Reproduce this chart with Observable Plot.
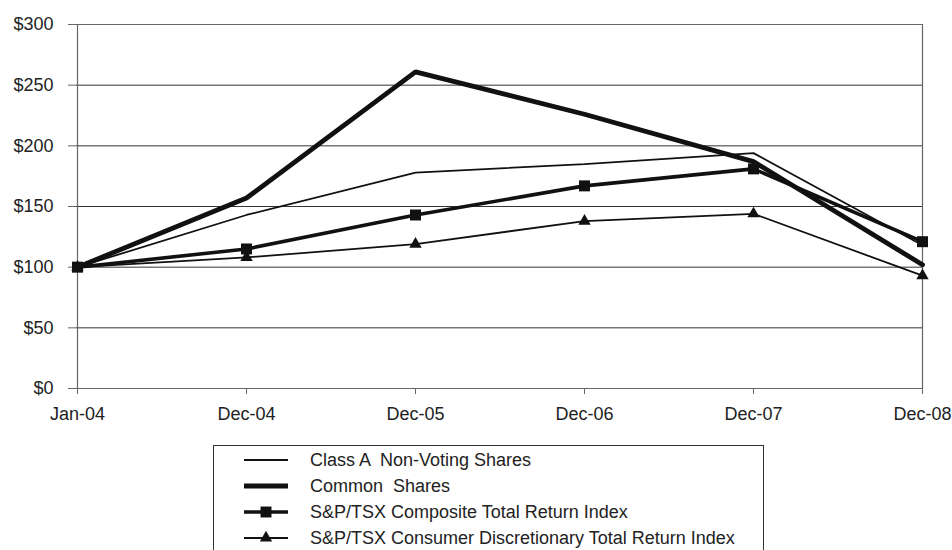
<!DOCTYPE html>
<html>
<head>
<meta charset="utf-8">
<script src="https://cdn.jsdelivr.net/npm/d3@7"></script>
<script src="https://cdn.jsdelivr.net/npm/@observablehq/plot@0.6"></script>
<style>
  html, body { margin: 0; padding: 0; background: #fff; }
  #wrap { position: relative; width: 952px; height: 550px; overflow: hidden; font-family: "Liberation Sans", Arial, sans-serif; }
  #legend { position: absolute; left: 213px; top: 445px; width: 551px; height: 120px; border: 1px solid #333; box-sizing: border-box; }
  .row { position: absolute; left: 0; height: 22px; display: flex; align-items: center; }
  .row svg { margin-left: 30px; }
  .row span { margin-left: 22px; font-size: 18px; color: #222; white-space: pre; }
</style>
</head>
<body>
<div id="wrap">
  <div id="chart"></div>
  <div id="legend"></div>
</div>
<script>
const periods = ["Jan-04", "Dec-04", "Dec-05", "Dec-06", "Dec-07", "Dec-08"];
const classA = [100, 143, 178, 185, 194, 118];
const common = [100, 157, 261, 226, 187, 102];
const composite = [100, 115, 143, 167, 181, 121];
const consumer = [100, 108, 119, 138, 144, 93];
const seriesNames = [
  "Class A  Non-Voting Shares",
  "Common  Shares",
  "S&P/TSX Composite Total Return Index",
  "S&P/TSX Consumer Discretionary Total Return Index"
];
const yTicks = [0, 50, 100, 150, 200, 250, 300];

const seriesValues = [classA, common, composite, consumer];
const styles = [
  {width: 1.8, symbol: null},
  {width: 4.8, symbol: null},
  {width: 3.6, symbol: "square"},
  {width: 1.8, symbol: "triangle"}
];
const rows = [];
seriesNames.forEach((name, i) => {
  periods.forEach((p, j) => rows.push({series: name, idx: i, period: p, value: seriesValues[i][j]}));
});

const lineMarks = [];
const order = [3, 2, 1, 0];
order.forEach(i => {
  lineMarks.push(Plot.line(rows.filter(d => d.idx === i), {x: "period", y: "value", stroke: "#111", strokeWidth: styles[i].width, strokeLinejoin: "miter"}));
});
const sq = rows.filter(d => d.idx === 2);
const tri = rows.filter(d => d.idx === 3);

const chart = Plot.plot({
  width: 952,
  height: 430,
  marginTop: 24,
  marginBottom: 42,
  marginLeft: 76,
  marginRight: 29,
  style: {fontFamily: "'Liberation Sans', Arial, sans-serif", fontSize: "18px", color: "#222", background: "white"},
  x: {type: "point", domain: periods, padding: 0, label: null},
  y: {domain: [0, 300], label: null},
  marks: [
    Plot.gridY(yTicks.slice(1, -1), {stroke: "#333", strokeOpacity: 1, strokeWidth: 1}),
    Plot.ruleY([0, 300], {stroke: "#666", strokeWidth: 1.2}),
    Plot.ruleX([periods[0], periods[periods.length - 1]], {stroke: "#666", strokeWidth: 1.2}),
    Plot.axisY({ticks: yTicks, tickSize: 8, tickPadding: 15, tickFormat: d => "$" + d, stroke: "#666", label: null}),
    Plot.axisX({tickSize: 6, tickPadding: 13, stroke: "#666", label: null}),
    ...lineMarks,
    Plot.dot(sq, {x: "period", y: "value", symbol: "square", r: 6.2, fill: "#111", stroke: "none"}),
    Plot.dot(tri, {x: "period", y: "value", symbol: "triangle", r: 4.6, fill: "#111", stroke: "none"})
  ]
});
document.getElementById("chart").appendChild(chart);

// Legend
const legend = d3.select("#legend");
const rowTops = [3, 29, 55, 81];
seriesNames.forEach((name, i) => {
  const r = legend.append("div").attr("class", "row").style("top", rowTops[i] + "px");
  const s = r.append("svg").attr("width", 44).attr("height", 22);
  s.append("line").attr("x1", 0).attr("x2", 44).attr("y1", 11).attr("y2", 11)
    .attr("stroke", "#111").attr("stroke-width", i === 1 ? 5 : (i === 2 ? 3.6 : 1.8));
  if (styles[i].symbol) {
    const sym = styles[i].symbol === "square" ? d3.symbolSquare : d3.symbolTriangle;
    const size = styles[i].symbol === "square" ? 120 : 66;
    s.append("path").attr("d", d3.symbol(sym, size)()).attr("transform", "translate(22,11)").attr("fill", "#111");
  }
  r.append("span").text(name);
});
</script>
</body>
</html>
